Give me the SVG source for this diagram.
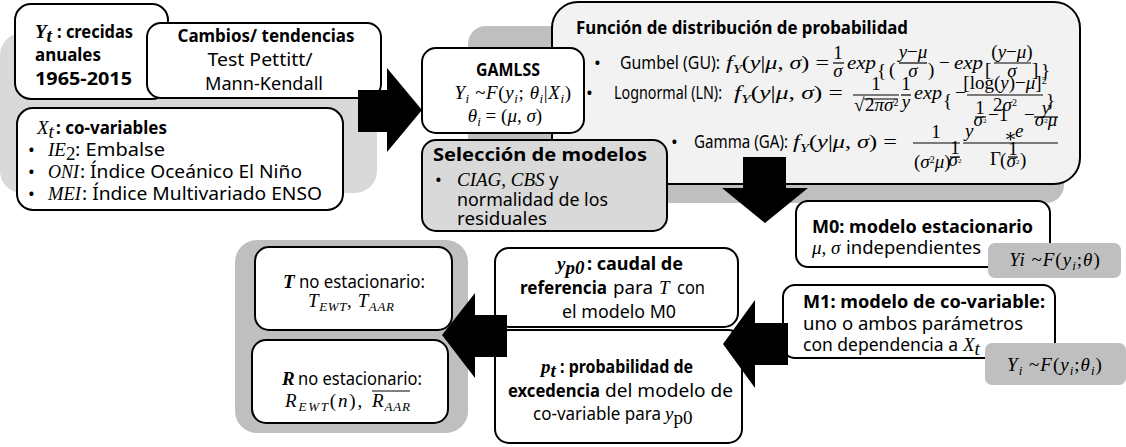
<svg xmlns="http://www.w3.org/2000/svg" width="1126" height="447" viewBox="0 0 1126 447">
<style>
.bx{fill:#fff;stroke:#000;stroke-width:2}
.t{font-family:"Noto Sans","Open Sans","Liberation Sans",sans-serif;font-size:18px;fill:#000}
.tb{font-weight:bold;font-size:17.5px}
.mi{font-family:"Liberation Serif","DejaVu Serif",serif;font-style:italic;font-size:19px;fill:#000}
.n{font-style:normal}
.fb{stroke:#000;stroke-width:1.2}
.arr{fill:#000}
</style>
<g id="backgrounds">
<rect x="0" y="33" width="377" height="160" rx="22" fill="#d9d9d9"/>
<rect x="468" y="26" width="596" height="177" rx="18" fill="#bfbfbf"/>
<rect x="235" y="240" width="233" height="193" rx="22" fill="#bfbfbf"/>
</g>
<g id="yt">
<rect class="bx" x="15" y="4" width="153" height="95" rx="16"/>
<text x="35" y="38"><tspan class="mi" font-weight="bold" font-size="21">Y</tspan><tspan class="mi" font-weight="bold" font-size="14" dy="4">t</tspan></text>
<text class="t tb" x="57" y="38" font-size="18.5" textLength="76" lengthAdjust="spacingAndGlyphs">:  crecidas</text>
<text class="t tb" x="35" y="61" font-size="18.5" textLength="66" lengthAdjust="spacingAndGlyphs">anuales</text>
<text class="t tb" x="35" y="85" font-size="18.5" textLength="97" lengthAdjust="spacingAndGlyphs">1965-2015</text>
</g>
<g id="cambios">
<rect class="bx" x="147" y="23" width="234" height="75" rx="14"/>
<text class="t tb" x="266" y="42" text-anchor="middle" textLength="177" lengthAdjust="spacingAndGlyphs">Cambios/ tendencias</text>
<text class="t" x="260" y="66" text-anchor="middle" textLength="105" lengthAdjust="spacingAndGlyphs">Test Pettitt/</text>
<text class="t" x="264" y="90" text-anchor="middle" textLength="118" lengthAdjust="spacingAndGlyphs">Mann-Kendall</text>
</g>
<g id="xt">
<rect class="bx" x="17" y="108" width="326" height="102" rx="16"/>
<text x="37" y="134"><tspan class="mi" font-size="21">X</tspan><tspan class="mi" font-size="14" dy="4">t</tspan></text>
<text class="t tb" x="56" y="134" textLength="111" lengthAdjust="spacingAndGlyphs">: co-variables</text>
<text class="t" x="28" y="156">•</text>
<text class="t" x="28" y="178">•</text>
<text class="t" x="28" y="200">•</text>
<text x="48" y="156"><tspan class="mi">IE</tspan><tspan class="mi n" font-size="12" dy="4">2</tspan></text>
<text class="t" x="75" y="156" textLength="90" lengthAdjust="spacingAndGlyphs">: Embalse</text>
<text class="mi" x="48" y="178" textLength="31" lengthAdjust="spacingAndGlyphs">ONI</text>
<text class="t" x="80" y="178" textLength="222" lengthAdjust="spacingAndGlyphs">: Índice Oceánico El Niño</text>
<text class="mi" x="48" y="200" textLength="33" lengthAdjust="spacingAndGlyphs">MEI</text>
<text class="t" x="82" y="200" textLength="240" lengthAdjust="spacingAndGlyphs">:  Índice Multivariado ENSO</text>
</g>
<g id="funcion">
<rect x="552" y="2" width="528" height="182" rx="26" fill="#f2f2f2" stroke="#000" stroke-width="2"/>
<text class="t tb" x="576" y="34" textLength="332" lengthAdjust="spacingAndGlyphs">Función de distribución de probabilidad</text>
<!-- Gumbel -->
<text class="t" x="594" y="69">•</text>
<text class="t" x="620" y="69" textLength="100" lengthAdjust="spacingAndGlyphs">Gumbel (GU):</text>
<text class="mi" x="726" y="69" textLength="103" lengthAdjust="spacingAndGlyphs">f<tspan font-size="13" dy="4">Y</tspan><tspan dy="-4" class="n">(</tspan>y<tspan class="n">|</tspan>μ<tspan class="n">, </tspan>σ<tspan class="n">) =</tspan></text>
<text class="mi n" x="838" y="59" font-size="15" text-anchor="middle">1</text>
<line class="fb" x1="833" y1="63" x2="844" y2="63"/>
<text class="mi" x="838" y="77" font-size="15" text-anchor="middle">σ</text>
<text class="mi" x="847" y="69" textLength="29" lengthAdjust="spacingAndGlyphs">exp</text>
<text class="mi n" x="877" y="77" font-size="30">{</text>
<text class="mi n" x="889" y="76" font-size="29">(</text>
<text class="mi" x="913" y="58" font-size="15" text-anchor="middle">y<tspan class="n">−</tspan>μ</text>
<line class="fb" x1="899" y1="63" x2="927" y2="63"/>
<text class="mi" x="913" y="77" font-size="15" text-anchor="middle">σ</text>
<text class="mi n" x="928" y="76" font-size="29">)</text>
<text class="mi n" x="939" y="69">−</text>
<text class="mi" x="954" y="69" textLength="29" lengthAdjust="spacingAndGlyphs">exp</text>
<text class="mi n" x="985" y="76" font-size="29">[</text>
<text class="mi" x="1012" y="58" font-size="15" text-anchor="middle"><tspan class="n">(</tspan>y<tspan class="n">−</tspan>μ<tspan class="n">)</tspan></text>
<line class="fb" x1="994" y1="63" x2="1031" y2="63"/>
<text class="mi" x="1012" y="77" font-size="15" text-anchor="middle">σ</text>
<text class="mi n" x="1032" y="76" font-size="29">]</text>
<text class="mi n" x="1041" y="77" font-size="30">}</text>
<!-- Lognormal -->
<text class="t" x="586" y="99">•</text>
<text class="t" x="614" y="99" textLength="108" lengthAdjust="spacingAndGlyphs">Lognormal (LN):</text>
<text class="mi" x="734" y="99" textLength="109" lengthAdjust="spacingAndGlyphs">f<tspan font-size="13" dy="4">Y</tspan><tspan dy="-4" class="n">(</tspan>y<tspan class="n">|</tspan>μ<tspan class="n">, </tspan>σ<tspan class="n">) =</tspan></text>
<text class="mi n" x="876" y="90" font-size="15" text-anchor="middle">1</text>
<line class="fb" x1="853" y1="95" x2="899" y2="95"/>
<text class="mi n" x="854" y="111" font-size="15">√</text>
<line class="fb" x1="864" y1="99" x2="898" y2="99" stroke-width="1"/>
<text class="mi" x="865" y="111" font-size="15"><tspan class="n">2</tspan>πσ<tspan class="n" font-size="10" dy="-5">2</tspan></text>
<text class="mi n" x="906" y="90" font-size="15" text-anchor="middle">1</text>
<line class="fb" x1="901" y1="95" x2="911" y2="95"/>
<text class="mi" x="906" y="108" font-size="15" text-anchor="middle">y</text>
<text class="mi" x="914" y="99" textLength="28" lengthAdjust="spacingAndGlyphs">exp</text>
<text class="mi n" x="943" y="107" font-size="30">{</text>
<text class="mi n" x="955" y="99">−</text>
<text class="mi n" x="1005" y="89" font-size="15" text-anchor="middle">[log(<tspan class="mi">y</tspan>)−<tspan class="mi">μ</tspan>]<tspan font-size="10" dy="-5">2</tspan></text>
<line class="fb" x1="967" y1="95" x2="1043" y2="95"/>
<text class="mi" x="1005" y="111" font-size="15" text-anchor="middle"><tspan class="n">2</tspan>σ<tspan class="n" font-size="10" dy="-5">2</tspan></text>
<text class="mi n" x="1046" y="107" font-size="30">}</text>
<!-- Gamma -->
<text class="t" x="671" y="148">•</text>
<text class="t" x="694" y="148" textLength="94" lengthAdjust="spacingAndGlyphs">Gamma (GA):</text>
<text class="mi" x="793" y="148" textLength="104" lengthAdjust="spacingAndGlyphs">f<tspan font-size="13" dy="4">Y</tspan><tspan dy="-4" class="n">(</tspan>y<tspan class="n">|</tspan>μ<tspan class="n">, </tspan>σ<tspan class="n">) =</tspan></text>
<text class="mi n" x="936" y="138" font-size="15" text-anchor="middle">1</text>
<line class="fb" x1="913" y1="143" x2="960" y2="143"/>
<text class="mi" x="914" y="168" font-size="15"><tspan class="n">(</tspan>σ<tspan class="n" font-size="10" dy="-5">2</tspan><tspan dy="5">μ</tspan><tspan class="n">)</tspan></text>
<text class="mi n" x="955" y="154" font-size="10" text-anchor="middle">1</text>
<line class="fb" x1="950" y1="157" x2="960" y2="157" stroke-width="0.8"/>
<text class="mi" x="955" y="166" font-size="10" text-anchor="middle">σ<tspan class="n" font-size="7" dy="-3">2</tspan></text>
<line class="fb" x1="963" y1="143" x2="1058" y2="143"/>
<text class="mi" x="965" y="137" font-size="17">y</text>
<text class="mi n" x="980" y="114" font-size="10" text-anchor="middle">1</text>
<line class="fb" x1="975" y1="117" x2="986" y2="117" stroke-width="0.8"/>
<text class="mi" x="980" y="126" font-size="10" text-anchor="middle">σ<tspan class="n" font-size="7" dy="-3">2</tspan></text>
<text class="mi n" x="988" y="121" font-size="11">−1</text>
<text class="mi n" x="1004" y="142" font-size="14">∗</text>
<text class="mi" x="1015" y="137" font-size="17">e</text>
<text class="mi n" x="1024" y="121" font-size="11">−</text>
<text class="mi" x="1046" y="114" font-size="10" text-anchor="middle">y</text>
<line class="fb" x1="1034" y1="117" x2="1058" y2="117" stroke-width="0.8"/>
<text class="mi" x="1046" y="126" font-size="10" text-anchor="middle">σ<tspan class="n" font-size="7" dy="-3">2</tspan><tspan dy="3">μ</tspan></text>
<text class="mi n" x="990" y="165" font-size="15">Γ</text>
<text class="mi n" x="1000" y="166" font-size="18">(</text>
<text class="mi n" x="1013" y="155" font-size="10" text-anchor="middle">1</text>
<line class="fb" x1="1008" y1="157" x2="1018" y2="157" stroke-width="0.8"/>
<text class="mi" x="1013" y="167" font-size="10" text-anchor="middle">σ<tspan class="n" font-size="7" dy="-3">2</tspan></text>
<text class="mi n" x="1020" y="166" font-size="18">)</text>
</g>
<g id="gamlss">
<rect class="bx" x="422" y="48" width="162" height="85" rx="14"/>
<text class="t tb" x="508" y="76" text-anchor="middle" textLength="64" lengthAdjust="spacingAndGlyphs">GAMLSS</text>
<text class="mi" x="513" y="99" text-anchor="middle" font-size="20" letter-spacing="0.6">Y<tspan font-size="13" dy="4">i</tspan><tspan dy="-4" class="n"> ~</tspan>F<tspan class="n">(</tspan>y<tspan font-size="13" dy="4">i</tspan><tspan dy="-4" class="n">; </tspan>θ<tspan font-size="13" dy="4">i</tspan><tspan dy="-4" class="n">|</tspan>X<tspan font-size="13" dy="4">i</tspan><tspan dy="-4" class="n">)</tspan></text>
<text class="mi" x="505" y="122" text-anchor="middle" font-size="20">θ<tspan font-size="13" dy="4">i</tspan><tspan dy="-4" class="n"> = (</tspan>μ<tspan class="n">, </tspan>σ<tspan class="n">)</tspan></text>
</g>
<g id="seleccion">
<rect x="422" y="140" width="245" height="91" rx="14" fill="#d9d9d9" stroke="#000" stroke-width="2"/>
<text class="t tb" x="433" y="161" textLength="214" lengthAdjust="spacingAndGlyphs">Selección de modelos</text>
<text class="t" x="435" y="186">•</text>
<text x="457" y="186"><tspan class="mi">CIAG</tspan><tspan class="mi n">, </tspan><tspan class="mi">CBS</tspan><tspan class="t"> y</tspan></text>
<text class="t" x="457" y="206" textLength="151" lengthAdjust="spacingAndGlyphs">normalidad de los</text>
<text class="t" x="457" y="225" textLength="90" lengthAdjust="spacingAndGlyphs">residuales</text>
</g>
<g id="m0">
<rect class="bx" x="796" y="201" width="254" height="66" rx="12"/>
<text class="t tb" x="812" y="233" textLength="221" lengthAdjust="spacingAndGlyphs">M0: modelo estacionario</text>
<text class="mi" x="812" y="254">μ<tspan class="n">, </tspan>σ</text>
<text class="t" x="846" y="254" textLength="135" lengthAdjust="spacingAndGlyphs">independientes</text>
</g>
<g id="m0-model">
<rect x="988" y="243" width="133" height="35" rx="7" fill="#bfbfbf"/>
<text class="mi" x="1055" y="266" text-anchor="middle" font-size="20" letter-spacing="1">Yi<tspan class="n"> ~</tspan>F<tspan class="n">(</tspan>y<tspan font-size="13" dy="4">i</tspan><tspan dy="-4" class="n">;</tspan>θ<tspan class="n">)</tspan></text>
</g>
<g id="m1">
<rect class="bx" x="783" y="285" width="272" height="73" rx="12"/>
<text class="t tb" x="803" y="308" textLength="242" lengthAdjust="spacingAndGlyphs">M1: modelo de co-variable:</text>
<text class="t" x="803" y="330" textLength="220" lengthAdjust="spacingAndGlyphs">uno o ambos parámetros</text>
<text class="t" x="803" y="351" textLength="155" lengthAdjust="spacingAndGlyphs">con dependencia a</text>
<text x="963" y="351"><tspan class="mi">X</tspan><tspan class="mi" font-size="13" dy="4">t</tspan></text>
</g>
<g id="m1-model">
<rect x="985" y="343" width="141" height="42" rx="7" fill="#bfbfbf"/>
<text class="mi" x="1055" y="371" text-anchor="middle" font-size="20" letter-spacing="1">Y<tspan font-size="13" dy="4">i</tspan><tspan dy="-4" class="n"> ~</tspan>F<tspan class="n">(</tspan>y<tspan font-size="13" dy="4">i</tspan><tspan dy="-4" class="n">;</tspan>θ<tspan font-size="13" dy="4">i</tspan><tspan dy="-4" class="n">)</tspan></text>
</g>
<g id="yp0">
<rect class="bx" x="495" y="248" width="243" height="79" rx="14"/>
<text x="557" y="270"><tspan class="mi" font-weight="bold" font-size="21">y</tspan><tspan class="mi" font-weight="bold" font-size="14" dy="4">p0</tspan></text>
<text class="t tb" x="587" y="270" textLength="96" lengthAdjust="spacingAndGlyphs">: caudal de</text>
<text class="t tb" x="520" y="294" textLength="87" lengthAdjust="spacingAndGlyphs">referencia</text>
<text class="t" x="613" y="294" textLength="40" lengthAdjust="spacingAndGlyphs">para</text>
<text class="mi" x="659" y="294" font-size="20">T</text>
<text class="t" x="677" y="294" textLength="28" lengthAdjust="spacingAndGlyphs">con</text>
<text class="t" x="619" y="318" text-anchor="middle" textLength="114" lengthAdjust="spacingAndGlyphs">el modelo M0</text>
</g>
<g id="pt">
<rect class="bx" x="495" y="330" width="247" height="113" rx="14"/>
<text x="541" y="373"><tspan class="mi" font-weight="bold" font-size="21">p</tspan><tspan class="mi" font-weight="bold" font-size="14" dy="4">t</tspan></text>
<text class="t tb" x="560" y="373" textLength="133" lengthAdjust="spacingAndGlyphs">: probabilidad de</text>
<text class="t tb" x="508" y="397" textLength="92" lengthAdjust="spacingAndGlyphs">excedencia</text>
<text class="t" x="605" y="397" textLength="128" lengthAdjust="spacingAndGlyphs">del modelo de</text>
<text class="t" x="533" y="420" textLength="128" lengthAdjust="spacingAndGlyphs">co-variable para</text>
<text x="665" y="420"><tspan class="mi" font-size="20">y</tspan><tspan class="mi n" font-size="13" dy="4">p0</tspan></text>
</g>
<g id="t-noest">
<rect class="bx" x="255" y="247" width="197" height="83" rx="14"/>
<text class="mi" x="283" y="288" font-weight="bold" font-size="20">T</text>
<text class="t" x="299" y="288" textLength="126" lengthAdjust="spacingAndGlyphs">no estacionario:</text>
<text class="mi" x="308" y="307" font-size="20" letter-spacing="0.6">T<tspan font-size="13" dy="4">EWT</tspan><tspan dy="-4" class="n">, </tspan>T<tspan font-size="13" dy="4">AAR</tspan></text>
</g>
<g id="r-noest">
<rect class="bx" x="252" y="340" width="196" height="83" rx="14"/>
<text class="mi" x="282" y="385" font-weight="bold" font-size="20">R</text>
<text class="t" x="298" y="385" textLength="124" lengthAdjust="spacingAndGlyphs">no estacionario:</text>
<text class="mi" x="285" y="407" font-size="20" letter-spacing="1.8">R<tspan font-size="13" dy="4">EWT</tspan><tspan dy="-4" class="n">(</tspan>n<tspan class="n">),</tspan></text>
<text class="mi" x="372" y="407" font-size="20" letter-spacing="0.8">R<tspan font-size="13" dy="4">AAR</tspan></text>
<line x1="372" y1="391" x2="410" y2="391" stroke="#000" stroke-width="1"/>
</g>
<g id="connectors">
<polygon class="arr" points="358,90 387,90 387,68 422,110 387,152 387,132 358,132"/>
<polygon class="arr" points="743,157 786,157 786,188 808,188 765,223 722,188 743,188"/>
<polygon class="arr" points="788,323 788,365 755,365 755,388 723,344 755,300 755,323"/>
<polygon class="arr" points="507,315 507,357 475,357 475,378 442,335 475,293 475,315"/>
</g>
</svg>
